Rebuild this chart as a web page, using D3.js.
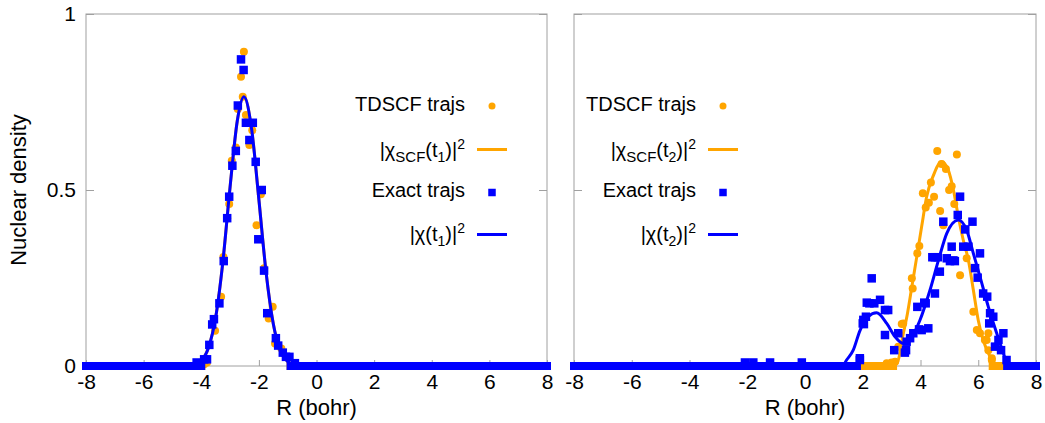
<!DOCTYPE html>
<html>
<head>
<meta charset="utf-8">
<script src="https://d3js.org/d3.v7.min.js"></script>
<style>
body { margin: 0; background: white; }
svg text { font-family: "Liberation Sans", Arial, Helvetica, sans-serif; fill: black; }
</style>
</head>
<body>
<svg width="1045" height="423"></svg>
<script>
// ---- data ----
const xTicks = [-8, -6, -4, -2, 0, 2, 4, 6, 8];
const yTicks = [0, 0.5, 1];
const yTickLabels = ["0", "0.5", "1"];

// left panel (t1): both curves lie on top of each other
const leftScfCurve = [[-8,0],[-4.5,0],[-4.25,0.004],[-4,0.015],[-3.75,0.052],[-3.5,0.138],[-3.25,0.296],[-3,0.508],[-2.75,0.696],[-2.52,0.765],[-2.25,0.672],[-2,0.473],[-1.75,0.266],[-1.5,0.12],[-1.25,0.043],[-1,0.013],[-0.75,0.003],[-0.5,0],[8,0]];
const leftExactCurve = [[-8,0],[-4.5,0],[-4.25,0.004],[-4,0.015],[-3.75,0.052],[-3.5,0.138],[-3.25,0.296],[-3,0.508],[-2.75,0.696],[-2.52,0.765],[-2.25,0.672],[-2,0.473],[-1.75,0.266],[-1.5,0.12],[-1.25,0.043],[-1,0.013],[-0.75,0.003],[-0.5,0],[8,0]];
const leftScfPts = [[-2.52,0.893],[-2.62,0.822],[-2.56,0.765],[-2.73,0.73],[-2.45,0.713],[-2.23,0.67],[-2.33,0.628],[-2.8,0.621],[-2.94,0.583],[-1.93,0.488],[-3.03,0.46],[-3.1,0.42],[-2.08,0.4],[-3.23,0.31],[-1.82,0.278],[-3.31,0.197],[-1.52,0.168],[-1.66,0.135],[-3.52,0.1],[-1.44,0.064],[-1.22,0.05],[-3.8,0.01],[-3.9,0.005]];
const leftExactPts = [[-2.62,0.871],[-2.53,0.841],[-2.73,0.74],[-2.45,0.691],[-2.21,0.691],[-2.33,0.642],[-2.8,0.611],[-2.92,0.569],[-2.11,0.58],[-1.9,0.5],[-3.03,0.481],[-3.1,0.42],[-2.02,0.36],[-3.22,0.298],[-1.82,0.271],[-3.37,0.178],[-1.71,0.15],[-3.56,0.133],[-3.62,0.118],[-3.72,0.06],[-1.41,0.079],[-1.33,0.058],[-1.17,0.038],[-1.06,0.026],[-0.94,0.026],[-3.9,0.019],[-3.8,0.019],[-4.16,0.01],[-0.75,0.008]];
const leftScfZero = [[-8,-4.0],[-0.9,8]];
const leftExactZero = [[-8,-4.0],[-0.9,8]];

// right panel (t2)
const rightScfCurve = [[-8,0],[3.0,0],[3.2,0.01],[3.4,0.09],[3.55,0.15],[3.7,0.225],[3.87,0.31],[4.04,0.396],[4.21,0.48],[4.44,0.54],[4.73,0.58],[4.96,0.557],[5.14,0.5],[5.31,0.424],[5.48,0.358],[5.66,0.3],[5.83,0.216],[6.0,0.13],[6.17,0.074],[6.41,0.026],[6.58,0.003],[6.7,0],[8,0]];
const rightExactCurve = [[-8,0],[1.3,0],[1.44,0.017],[1.67,0.045],[1.9,0.1],[2.19,0.14],[2.48,0.151],[2.83,0.121],[3.12,0.083],[3.4,0.064],[3.7,0.083],[3.98,0.13],[4.33,0.216],[4.62,0.3],[4.91,0.377],[5.31,0.415],[5.6,0.386],[5.83,0.32],[6.06,0.254],[6.35,0.168],[6.64,0.093],[6.87,0.036],[6.98,0.012],[7.1,0],[8,0]];
const rightScfPts = [[4.58,0.611],[5.26,0.601],[4.73,0.574],[4.88,0.56],[4.36,0.521],[4.08,0.491],[4.47,0.481],[4.29,0.464],[5.08,0.511],[4.99,0.5],[4.18,0.45],[4.68,0.44],[5.17,0.46],[4.79,0.4],[3.96,0.341],[3.89,0.32],[3.7,0.249],[3.73,0.22],[3.4,0.121],[3.35,0.119],[3.23,0.055],[3.12,0.012],[2.83,0.008],[3.0,0.01],[5.37,0.258],[5.6,0.306],[5.83,0.154],[5.95,0.102],[6.06,0.093],[6.35,0.093],[6.23,0.074],[6.29,0.074],[6.35,0.045],[6.47,0.017],[6.47,0.022]];
const rightExactPts = [[5.37,0.481],[5.29,0.429],[4.79,0.41],[5.8,0.41],[5.55,0.388],[5.08,0.339],[5.48,0.339],[5.66,0.339],[6.06,0.32],[4.41,0.309],[4.5,0.309],[4.6,0.309],[4.91,0.306],[5.02,0.298],[5.19,0.298],[5.14,0.3],[5.89,0.278],[4.67,0.268],[5.98,0.251],[4.5,0.206],[6.17,0.206],[6.31,0.197],[4.18,0.178],[3.89,0.168],[4.13,0.18],[6.38,0.121],[6.52,0.14],[6.41,0.15],[6.87,0.093],[6.7,0.074],[6.58,0.055],[6.79,0.045],[6.98,0.017],[4.04,0.102],[4.27,0.107],[3.95,0.104],[3.75,0.093],[3.64,0.079],[3.52,0.069],[3.23,0.093],[3.46,0.038],[3.09,0.045],[3.5,0.045],[2.77,0.088],[2.31,0.249],[2.6,0.188],[2.23,0.178],[2.4,0.178],[2.88,0.159],[2.77,0.159],[2.14,0.18],[2.11,0.14],[2.0,0.121],[2.04,0.119],[2.02,0.131],[1.9,0.017],[1.9,0.022],[-2.08,0.01],[-1.79,0.01],[-1.21,0.01],[-0.11,0.01]];
const rightScfZero = [[-8,3.05],[6.5,8]];
const rightExactZero = [[-8,1.8],[7.0,8]];

const legendTexts = ["TDSCF trajs", "SCF", "Exact trajs"];

// ---- drawing ----
const ORANGE = "#ffa500", BLUE = "#0000ff", FRAME = "#a0a0a0";
const svg = d3.select("svg");

const panels = [
  {x0: 86, x1: 547, yLabels: true, t: "1", scfCurve: leftScfCurve, exCurve: leftExactCurve,
   scfPts: leftScfPts, exPts: leftExactPts, scfZero: leftScfZero, exZero: leftExactZero, legX: 465},
  {x0: 574, x1: 1036, yLabels: false, t: "2", scfCurve: rightScfCurve, exCurve: rightExactCurve,
   scfPts: rightScfPts, exPts: rightExactPts, scfZero: rightScfZero, exZero: rightExactZero, legX: 696}
];

panels.forEach(p => {
  const x = d3.scaleLinear().domain([-8, 8]).range([p.x0, p.x1]);
  const y = d3.scaleLinear().domain([0, 1]).range([366, 14]);
  const g = svg.append("g");

  g.append("rect")
    .attr("x", x(-8)).attr("y", y(1))
    .attr("width", x(8) - x(-8)).attr("height", y(0) - y(1))
    .attr("fill", "none").attr("stroke", FRAME).attr("stroke-width", 1);

  const xa = g.append("g").attr("transform", "translate(0," + y(0) + ")")
    .call(d3.axisBottom(x).tickValues(xTicks).tickSize(-6).tickPadding(8).tickFormat(d3.format("d")));
  const ya = g.append("g").attr("transform", "translate(" + x(-8) + ",0)")
    .call(d3.axisLeft(y).tickValues(yTicks).tickSize(-8).tickPadding(10)
      .tickFormat((d, i) => p.yLabels ? yTickLabels[i] : ""));
  const yr = g.append("g").attr("transform", "translate(" + x(8) + ",0)")
    .call(d3.axisRight(y).tickValues(yTicks).tickSize(-8).tickFormat(""));
  [xa, ya, yr].forEach(a => {
    a.select(".domain").remove();
    a.selectAll("line").attr("stroke", FRAME);
    a.selectAll("text").attr("font-size", 21).attr("fill", "black");
  });
  xa.selectAll("text").text(d => d < 0 ? "-" + Math.abs(d) : d);

  g.append("text").attr("x", (x(-8) + x(8)) / 2).attr("y", 415)
    .attr("text-anchor", "middle").attr("font-size", 22).text("R (bohr)");

  const line = d3.line().x(d => x(d[0])).y(d => y(d[1])).curve(d3.curveMonotoneX);
  const zeroBand = (runs, color) => g.append("g").selectAll("line").data(runs).join("line")
    .attr("x1", d => x(d[0])).attr("x2", d => x(d[1]))
    .attr("y1", y(0)).attr("y2", y(0))
    .attr("stroke", color).attr("stroke-width", 8).attr("stroke-linecap", "square");

  // orange: TDSCF points then curve
  zeroBand(p.scfZero, ORANGE);
  g.append("g").selectAll("circle").data(p.scfPts).join("circle")
    .attr("cx", d => x(d[0])).attr("cy", d => y(d[1])).attr("r", 4).attr("fill", ORANGE);
  g.append("path").datum(p.scfCurve).attr("d", line)
    .attr("fill", "none").attr("stroke", ORANGE).attr("stroke-width", 3);

  // blue: exact points then curve
  zeroBand(p.exZero, BLUE);
  g.append("g").selectAll("rect").data(p.exPts).join("rect")
    .attr("x", d => x(d[0]) - 4.25).attr("y", d => y(d[1]) - 4.25)
    .attr("width", 8.5).attr("height", 8.5).attr("fill", BLUE);
  g.append("path").datum(p.exCurve).attr("d", line)
    .attr("fill", "none").attr("stroke", BLUE).attr("stroke-width", 3);

  // legend
  const lg = g.append("g").attr("font-size", 20);
  const sx = p.legX + 27;
  lg.append("text").attr("x", p.legX).attr("y", 111).attr("text-anchor", "end").text(legendTexts[0]);
  lg.append("circle").attr("cx", sx).attr("cy", 106).attr("r", 3.5).attr("fill", ORANGE);

  const t1 = lg.append("text").attr("x", p.legX).attr("y", 157).attr("text-anchor", "end");
  t1.append("tspan").text("|χ");
  t1.append("tspan").attr("dy", 5).attr("font-size", 15).text(legendTexts[1]);
  t1.append("tspan").attr("dy", -5).text("(t");
  t1.append("tspan").attr("dy", 5).attr("font-size", 14).text(p.t);
  t1.append("tspan").attr("dy", -5).text(")|");
  t1.append("tspan").attr("dy", -8).attr("font-size", 14).text("2");
  lg.append("line").attr("x1", sx - 15).attr("x2", sx + 15).attr("y1", 149.5).attr("y2", 149.5)
    .attr("stroke", ORANGE).attr("stroke-width", 3);

  lg.append("text").attr("x", p.legX).attr("y", 197).attr("text-anchor", "end").text(legendTexts[2]);
  lg.append("rect").attr("x", sx - 3.75).attr("y", 192.5 - 3.75).attr("width", 7.5).attr("height", 7.5).attr("fill", BLUE);

  const t2 = lg.append("text").attr("x", p.legX).attr("y", 241).attr("text-anchor", "end");
  t2.append("tspan").text("|χ(t");
  t2.append("tspan").attr("dy", 5).attr("font-size", 14).text(p.t);
  t2.append("tspan").attr("dy", -5).text(")|");
  t2.append("tspan").attr("dy", -8).attr("font-size", 14).text("2");
  lg.append("line").attr("x1", sx - 15).attr("x2", sx + 15).attr("y1", 234.5).attr("y2", 234.5)
    .attr("stroke", BLUE).attr("stroke-width", 3);
});

svg.append("text")
  .attr("transform", "translate(26,190) rotate(-90)")
  .attr("text-anchor", "middle").attr("font-size", 22)
  .text("Nuclear density");
</script>
</body>
</html>
